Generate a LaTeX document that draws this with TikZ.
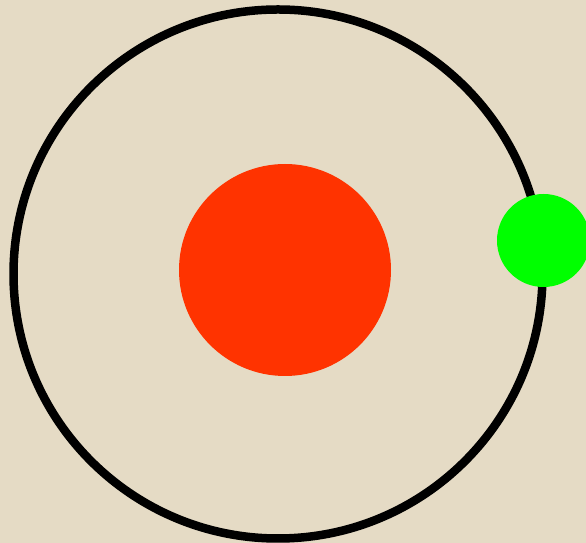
\documentclass[tikz,border=0pt]{standalone}
\usepackage{xcolor}
\usepackage{tikz}
\definecolor{parchment}{RGB}{229,219,197}
\definecolor{sunred}{RGB}{255,51,0}
\definecolor{planetgreen}{RGB}{0,255,0}

\begin{document}
\begin{tikzpicture}[
  x=1pt, y=1pt,
  orbit/.style={draw=black, circle, line width=8.5pt, minimum size=529pt, inner sep=0pt},
  body/.style={circle, draw=none, inner sep=0pt}
]
  % background
  \fill[parchment] (0,0) rectangle (586,543);
  \useasboundingbox (0,0) rectangle (586,543);
  \node[orbit] (orbit) at (278,269) {};
  \node[body, fill=sunred, minimum size=212pt] (sun) at (285,273) {};
  \node[body, fill=planetgreen, minimum size=93pt] (planet) at (543.5,302.5) {};
\end{tikzpicture}
\end{document}
